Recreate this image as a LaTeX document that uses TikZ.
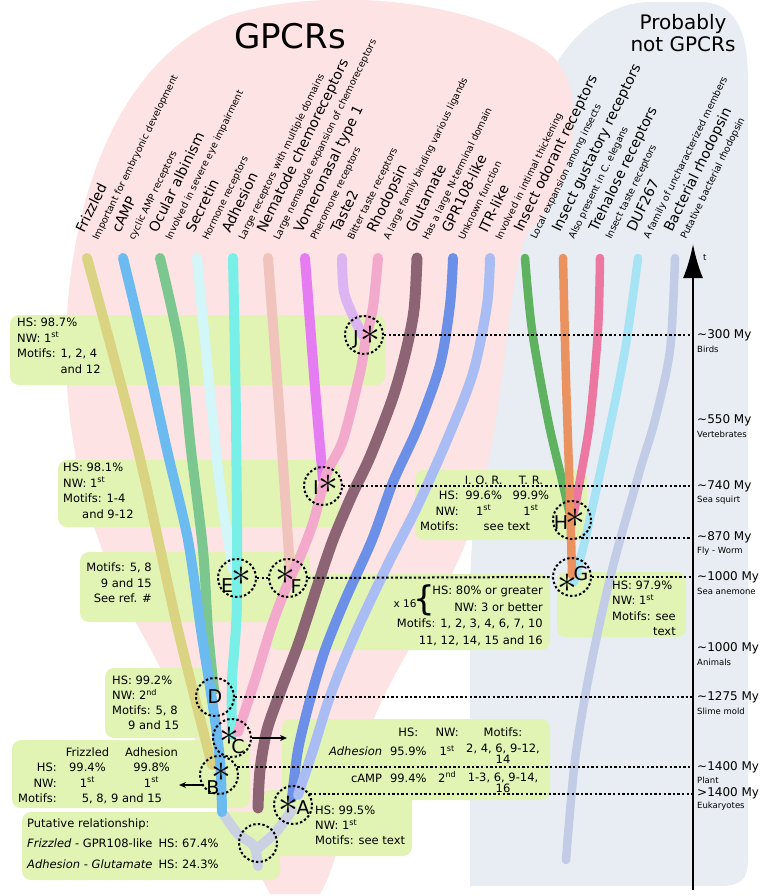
\documentclass[tikz,border=0pt]{standalone}
\usepackage{fontspec}
\usepackage{graphicx}
\setmainfont{DejaVu Sans}
\usetikzlibrary{arrows.meta, positioning, calc}
\definecolor{bgpink}{HTML}{FDE3E3}
\definecolor{bgslate}{HTML}{E8EDF3}
\definecolor{boxlime}{HTML}{E1F4B4}
\definecolor{cfriz}{HTML}{DAD382}
\definecolor{ccamp}{HTML}{6BBAF0}
\definecolor{cocul}{HTML}{7CC690}
\definecolor{csecr}{HTML}{D3F6F8}
\definecolor{cadhe}{HTML}{78F0E8}
\definecolor{cnema}{HTML}{F0C4BC}
\definecolor{cvome}{HTML}{E67CF2}
\definecolor{ctas}{HTML}{DDB4F2}
\definecolor{crhod}{HTML}{F3A9CC}
\definecolor{cglut}{HTML}{8C6474}
\definecolor{cgpr}{HTML}{6C90E8}
\definecolor{citr}{HTML}{A9BDF4}
\definecolor{cior}{HTML}{5FB25F}
\definecolor{cigr}{HTML}{EA9260}
\definecolor{ctreh}{HTML}{EC77A0}
\definecolor{cduf}{HTML}{A6E3F5}
\definecolor{cbrh}{HTML}{C3CCE6}
\definecolor{croot}{HTML}{C9D1E3}
\newcommand{\bigast}{\scalebox{2.3}{$\ast$}}

\begin{document}
\begin{tikzpicture}[x=1pt, y=-1pt,
  lin/.style={line width=10pt, line cap=round},
  thinlin/.style={line width=8.5pt, line cap=round},
  boxbg/.style={fill=boxlime, rounded corners=9pt},
  ring/.style={circle, draw, dash pattern=on 2.4pt off 2.2pt, line width=2pt, minimum size=38pt, inner sep=0pt},
  dotline/.style={dash pattern=on 2.4pt off 2.2pt, line width=2pt},
  ringtxt/.style={inner sep=0pt, font=\fontsize{19}{19}\selectfont},
  famlab/.style={rotate=64, anchor=base west, inner sep=0pt, font=\fontsize{14}{16}\selectfont},
  famsub/.style={rotate=64, anchor=base west, inner sep=0pt, font=\fontsize{9.5}{11}\selectfont},
  boxtxt/.style={inner sep=0pt, font=\fontsize{11.5}{15.5}\selectfont},
  tick/.style={anchor=west, inner sep=0pt, font=\fontsize{12}{14}\selectfont},
  ticksub/.style={anchor=west, inner sep=0pt, font=\fontsize{8.5}{10}\selectfont},
  arr/.style={-{Stealth[length=7pt, width=6pt]}, line width=1.3pt}
]
  \useasboundingbox (0,0) rectangle (764,896);

  % the two groups
  \fill[bgslate] (470,886) -- (470,600) .. controls (470,450) and (510,380) .. (510,260)
    .. controls (510,90) and (580,2) .. (650,2) -- (700,2) .. controls (735,2) and (748,30) .. (748,80)
    -- (748,860) .. controls (748,880) and (740,886) .. (720,886) -- cycle;
  \fill[bgpink] (270,894) .. controls (230,820) and (180,700) .. (140,630)
    .. controls (100,560) and (68,470) .. (66,360) .. controls (64,220) and (110,60) .. (230,15)
    .. controls (330,-15) and (470,0) .. (545,50) .. controls (590,80) and (580,180) .. (530,230)
    .. controls (505,260) and (510,420) .. (467,540) .. controls (440,610) and (380,680) .. (360,760)
    .. controls (345,820) and (335,870) .. (320,894) -- cycle;

  \node[font=\fontsize{34}{36}\selectfont] (gpcrT) at (290,36) {GPCRs};
  \node[align=center, font=\fontsize{20}{22}\selectfont] (notT) at (683,33) {Probably\\not GPCRs};

  % green bands
  \fill[boxbg] (10,315) rectangle (385,385);
  \fill[boxbg] (58,460) rectangle (340,527);
  \fill[boxbg] (415,470) rectangle (587,540);
  \fill[boxbg] (80,552) rectangle (310,622);
  \fill[boxbg] (270,574) rectangle (550,650);
  \fill[boxbg] (557,572) rectangle (686,637);
  \fill[boxbg] (105,668) rectangle (215,738);
  \fill[boxbg] (12,740) rectangle (250,808);
  \fill[boxbg] (22,812) rectangle (280,880);
  \fill[boxbg] (282,719) rectangle (550,800);
  \fill[boxbg] (262,790) rectangle (412,856);

  % lineages
  \draw[lin, croot] plot[smooth] coordinates {(222,812) (238,834) (254,846) (258,866)};
  \draw[lin, croot] plot[smooth] coordinates {(292,810) (276,832) (258,848)};
  \draw[lin, cfriz] plot[smooth] coordinates {(87,258) (138,450) (178,630) (212,765)};
  \draw[lin, cocul] plot[smooth] coordinates {(160,258) (180,350) (191,450) (203,550) (208,630) (214,690)};
  \draw[lin, ccamp] plot[smooth] coordinates {(123,258) (145,350) (167,450) (188,540) (201,630) (212,700) (220,760) (222,812)};
  \draw[lin, csecr] plot[smooth] coordinates {(197,258) (218,470) (233,570)};
  \draw[lin, cadhe] plot[smooth] coordinates {(233,258) (236,420) (237,600) (232,680) (232,735)};
  \draw[lin, cnema] plot[smooth] coordinates {(268,258) (280,420) (290,570)};
  \draw[lin, cvome] plot[smooth] coordinates {(305,258) (316,400) (323,480)};
  \draw[lin, ctas] plot[smooth] coordinates {(342,258) (344,292) (354,318) (363,336)};
  \draw[lin, crhod] plot[smooth] coordinates {(378,258) (373,307) (366,338) (360,373) (343,440) (327,473) (313,523) (300,557) (288,583) (272,625) (255,680) (238,732)};
  \draw[lin, line width=11pt, cglut] plot[smooth] coordinates {(417,258) (414,310) (405,355) (392,400) (370,457) (352,495) (333,540) (317,587) (299,642) (281,690) (267,730) (260,770) (258,808)};
  \draw[lin, cgpr] plot[smooth] coordinates {(453,258) (450,305) (440,365) (418,427) (393,482) (372,540) (345,600) (325,650) (310,700) (298,750) (292,798)};
  \draw[lin, citr] plot[smooth] coordinates {(490,258) (487,305) (473,373) (447,440) (417,507) (390,560) (360,623) (340,670) (327,705) (313,750) (298,795)};
  \draw[thinlin, cbrh] plot[smooth] coordinates {(675,258) (670,350) (655,420) (640,470) (612,570) (590,670) (575,760) (566,860)};
  \draw[thinlin, cduf] plot[smooth] coordinates {(638,258) (625,350) (605,450) (585,540) (574,582)};
  \draw[thinlin, cior] plot[smooth] coordinates {(525,258) (532,330) (548,420) (562,480) (570,515)};
  \draw[thinlin, ctreh] plot[smooth] coordinates {(600,258) (598,330) (590,420) (580,480) (574,512)};
  \draw[thinlin, cigr] plot[smooth] coordinates {(563,258) (566,380) (570,500) (572,575)};

  % family labels
  \node[famlab] (lFriz) at (84,234) {Frizzled};
  \node[famsub] (sFriz) at (98,241) {Important for embryonic development};
  \node[famlab] (lCamp) at (120,234) {cAMP};
  \node[famsub] (sCamp) at (134,241) {cyclic AMP receptors};
  \node[famlab] (lOcul) at (157,234) {Ocular albinism};
  \node[famsub] (sOcul) at (171,241) {Involved in severe eye impairment};
  \node[famlab] (lSecr) at (194,234) {Secretin};
  \node[famsub] (sSecr) at (208,241) {Hormone receptors};
  \node[famlab] (lAdhe) at (230,234) {Adhesion};
  \node[famsub] (sAdhe) at (244,241) {Large receptors with multiple domains};
  \node[famlab] (lNema) at (265,234) {Nematode chemoreceptors};
  \node[famsub] (sNema) at (279,241) {Large nematode expansion of chemoreceptors};
  \node[famlab] (lVome) at (302,234) {Vomeronasal type 1};
  \node[famsub] (sVome) at (316,241) {Pheromone receptors};
  \node[famlab] (lTas) at (339,234) {Taste2};
  \node[famsub] (sTas) at (353,241) {Bitter taste receptors};
  \node[famlab] (lRhod) at (375,234) {Rhodopsin};
  \node[famsub] (sRhod) at (389,241) {A large family binding various ligands};
  \node[famlab] (lGlut) at (414,234) {Glutamate};
  \node[famsub] (sGlut) at (428,241) {Has a large N-terminal domain};
  \node[famlab] (lGpr) at (450,234) {GPR108-like};
  \node[famsub] (sGpr) at (464,241) {Unknown function};
  \node[famlab] (lItr) at (487,234) {ITR-like};
  \node[famsub] (sItr) at (501,241) {Involved in intimal thickening};
  \node[famlab] (lIor) at (522,233) {Insect odorant receptors};
  \node[famsub] (sIor) at (536,240) {Local expansion among insects};
  \node[famlab] (lIgr) at (560,233) {Insect gustatory receptors};
  \node[famsub] (sIgr) at (574,240) {Also present in C. elegans};
  \node[famlab] (lTreh) at (597,233) {Trehalose receptors};
  \node[famsub] (sTreh) at (611,240) {Insect taste receptors};
  \node[famlab] (lDuf) at (635,233) {DUF267};
  \node[famsub] (sDuf) at (649,240) {A family of uncharacterized members};
  \node[famlab] (lBrh) at (672,233) {Bacterial rhodopsin};
  \node[famsub] (sBrh) at (686,240) {Putative bacterial rhodopsin};

  % time axis
  \coordinate (tBot) at (693,890);
  \coordinate (tTop) at (693,244);
  \coordinate (tAx) at (693,0);
  \draw[line width=2.4pt, -{Latex[length=34pt, width=20pt]}] (tBot) -- (tTop);
  \node[ticksub] (tLab) at (703,258) {t};
  \node[tick] (t300) at (697,335) {\textasciitilde300 My};
  \node[ticksub] (t300s) at (697,349) {Birds};
  \node[tick] (t550) at (697,420) {\textasciitilde550 My};
  \node[ticksub] (t550s) at (697,434) {Vertebrates};
  \node[tick] (t740) at (697,486) {\textasciitilde740 My};
  \node[ticksub] (t740s) at (697,500) {Sea squirt};
  \node[tick] (t870) at (697,537) {\textasciitilde870 My};
  \node[ticksub] (t870s) at (697,551) {Fly - Worm};
  \node[tick] (t1000) at (697,577) {\textasciitilde1000 My};
  \node[ticksub] (t1000s) at (697,591) {Sea anemone};
  \node[tick] (tAni) at (697,648) {\textasciitilde1000 My};
  \node[ticksub] (tAnis) at (697,662) {Animals};
  \node[tick] (t1275) at (697,697) {\textasciitilde1275 My};
  \node[ticksub] (t1275s) at (697,711) {Slime mold};
  \node[tick] (t1400) at (697,767) {\textasciitilde1400 My};
  \node[ticksub] (t1400s) at (697,780) {Plant};
  \node[tick] (tEuk) at (697,793) {>1400 My};
  \node[ticksub] (tEuks) at (697,806) {Eukaryotes};

  % duplication events
  \node[ring] (J) at (364,335) {};
  \node[ring] (I) at (323,486) {};
  \node[ring] (H) at (572,520) {};
  \node[ring] (G) at (572,577) {};
  \node[ring] (E) at (237,578) {};
  \node[ring] (F) at (288,578) {};
  \node[ring] (D) at (215,697) {};
  \node[ring] (C) at (232,738) {};
  \node[ring] (B) at (219,775) {};
  \node[ring] (A) at (293,805) {};
  \node[ring] (R) at (258,843) {};

  \node[ringtxt] (Jl) at ([shift={(-8,4)}]J.center) {J};
  \node[ringtxt] (Js) at ([shift={(6,0)}]J.center) {\bigast};
  \node[ringtxt] (Il) at ([shift={(-7,2)}]I.center) {I};
  \node[ringtxt] (Is) at ([shift={(5,-2)}]I.center) {\bigast};
  \node[ringtxt] (Hl) at ([shift={(-11,3)}]H.center) {H};
  \node[ringtxt] (Hs) at ([shift={(3,-2)}]H.center) {\bigast};
  \node[ringtxt] (Gl) at ([shift={(9,-3)}]G.center) {G};
  \node[ringtxt] (Gs) at ([shift={(-5,6)}]G.center) {\bigast};
  \node[ringtxt] (El) at ([shift={(-10,8)}]E.center) {E};
  \node[ringtxt] (Es) at ([shift={(4,-2)}]E.center) {\bigast};
  \node[ringtxt] (Fl) at ([shift={(8,9)}]F.center) {F};
  \node[ringtxt] (Fs) at ([shift={(-3,-3)}]F.center) {\bigast};
  \node[ringtxt] (Dl) at (D.center) {D};
  \node[ringtxt] (Cl) at ([shift={(6,9)}]C.center) {C};
  \node[ringtxt] (Cs) at ([shift={(-3,-2)}]C.center) {\bigast};
  \node[ringtxt] (Bl) at ([shift={(-6,13)}]B.center) {B};
  \node[ringtxt] (Bs) at ([shift={(2,-3)}]B.center) {\bigast};
  \node[ringtxt] (Al) at ([shift={(10,3)}]A.center) {A};
  \node[ringtxt] (As) at ([shift={(-5,0)}]A.center) {\bigast};

  \draw[dotline] (J.east) -- (J.east -| tAx);
  \draw[dotline] (I.east) -- (I.east -| tAx);
  \draw[dotline] (H.-62) -- (H.-62 -| tAx);
  \draw[dotline] (E.east) -- (F.west);
  \draw[dotline] (F.east) -- (G.west);
  \draw[dotline] (G.east) -- (G.east -| tAx);
  \draw[dotline] (D.east) -- (D.east -| tAx);
  \draw[dotline] (B.25) -- (B.25 -| tAx);
  \draw[dotline] (A.35) -- (A.35 -| tAx);

  \coordinate (cEnd) at (287,738);
  \coordinate (bEnd) at (179,786);
  \draw[arr] (C.east) -- (cEnd);
  \draw[arr] (B.210) -- (B.210 -| bEnd);

  % box texts
  \node[boxtxt, anchor=north west, align=left] (jT) at (17,318)
    {HS: 98.7\%\\NW: 1\textsuperscript{st}\\Motifs: 1, 2, 4\\\phantom{Motifs: }and 12};
  \node[boxtxt, anchor=north west, align=left] (iT) at (63,463)
    {HS: 98.1\%\\NW: 1\textsuperscript{st}\\Motifs: 1-4\\\hspace*{19pt}and 9-12};
  \node[boxtxt, anchor=north east, align=right] (eT) at (152,563)
    {Motifs: 5, 8\\9 and 15\\See ref. \#};
  \node[boxtxt, anchor=north west] (iorT) at (420,473)
    {\begin{tabular}{@{}r@{\hspace{6pt}}c@{\hspace{10pt}}c@{}}
      & I. O. R. & T. R.\\
      HS: & 99.6\% & 99.9\%\\
      NW: & 1\textsuperscript{st} & 1\textsuperscript{st}\\
      Motifs: & \multicolumn{2}{c}{see text}
    \end{tabular}};
  \node[boxtxt, anchor=north west] (gT) at (612,578)
    {\begin{tabular}{@{}l@{}}
      HS: 97.9\%\\ NW: 1\textsuperscript{st}\\ Motifs: see\\ \multicolumn{1}{@{}r@{}}{text}
    \end{tabular}};
  \node[boxtxt, font=\fontsize{11.5}{16.5}\selectfont, anchor=north east, align=right] (x16T) at (543,586)
    {HS: 80\% or greater\\NW: 3 or better\\Motifs: 1, 2, 3, 4, 6, 7, 10\\11, 12, 14, 15 and 16};
  \node[inner sep=0pt, font=\fontsize{34}{34}\selectfont] (x16B) at (424,600) {\{};
  \node[inner sep=0pt, font=\fontsize{10.5}{12}\selectfont] (x16N) at (405,604) {x 16};
  \node[boxtxt, font=\fontsize{11.5}{15}\selectfont, anchor=north west, align=left] (dT) at (112,676)
    {HS: 99.2\%\\NW: 2\textsuperscript{nd}\\Motifs: 5, 8\\\hspace*{16pt}9 and 15};
  \node[boxtxt, anchor=north west] (bT) at (18,745)
    {\begin{tabular}{@{}r@{\hspace{9pt}}c@{\hspace{16pt}}c@{}}
      & Frizzled & Adhesion\\
      HS: & 99.4\% & 99.8\%\\
      NW: & 1\textsuperscript{st} & 1\textsuperscript{st}\\
      Motifs: & \multicolumn{2}{c}{5, 8, 9 and 15}
    \end{tabular}};
  \node[boxtxt, anchor=north west] (putT) at (27,816)
    {\begin{tabular}{@{}l@{\hspace{6pt}}r@{}}
      \multicolumn{2}{@{}l}{Putative relationship:}\\[5pt]
      \textit{Frizzled} - GPR108-like & HS: 67.4\%\\[5pt]
      \textit{Adhesion - Glutamate} & HS: 24.3\%
    \end{tabular}};
  \node[boxtxt, font=\fontsize{11.5}{15}\selectfont, anchor=north west, align=left] (aT) at (315,806)
    {HS: 99.5\%\\NW: 1\textsuperscript{st}\\Motifs: see text};
  \node[boxtxt, anchor=north east] (acT) at (459,725)
    {\begin{tabular}{@{}r@{\hspace{8pt}}c@{\hspace{9pt}}c@{}}
      & HS: & NW:\\[4pt]
      \textit{Adhesion} & 95.9\% & 1\textsuperscript{st}\\[11pt]
      cAMP & 99.4\% & 2\textsuperscript{nd}
    \end{tabular}};
  \node[boxtxt] (acM) at (503,732) {Motifs:};
  \node[boxtxt, font=\fontsize{11.5}{11}\selectfont, align=center] (adM) at (503,754) {2, 4, 6, 9-12,\\14};
  \node[boxtxt, font=\fontsize{11.5}{11}\selectfont, align=center] (caM) at (503,783) {1-3, 6, 9-14,\\16};
\end{tikzpicture}
\end{document}
